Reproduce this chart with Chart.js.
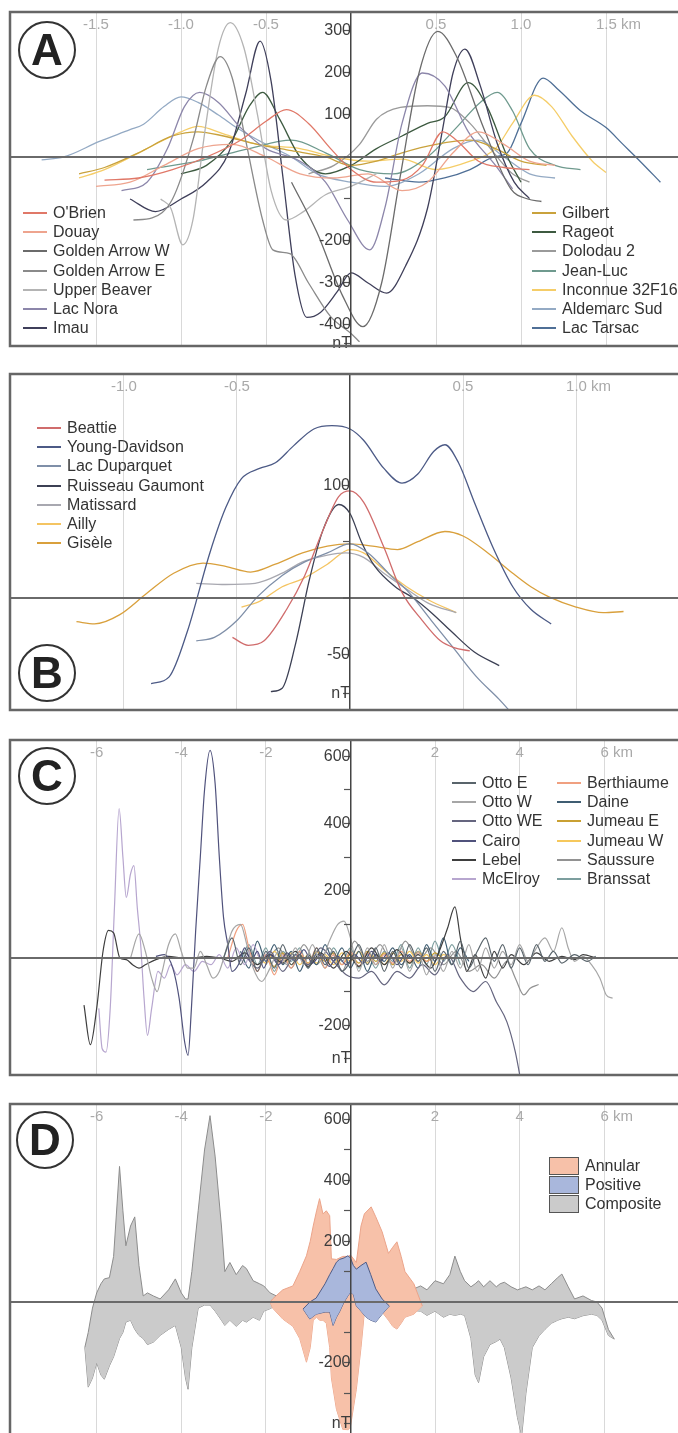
<!DOCTYPE html>
<html><head><meta charset="utf-8">
<script src="https://cdn.jsdelivr.net/npm/chart.js@4.4.1/dist/chart.umd.min.js"></script>
<style>
html,body{margin:0;padding:0;background:#fff;}
body{width:678px;height:1433px;overflow:hidden;position:relative;font-family:'Liberation Sans',Arial,Helvetica,sans-serif;}
canvas{position:absolute;left:0;}
.leg{position:absolute;font-size:16px;color:#333;white-space:nowrap;}
.leg .it{height:19.3px;display:flex;align-items:center;}
.leg .ln{display:inline-block;width:24px;height:0;border-top:2px solid;margin-right:6px;}
.leg .bx{display:inline-block;width:28px;height:16px;border:1.5px solid #555;margin-right:6px;}
.badge{position:absolute;width:58px;height:58px;border:2.5px solid #333;border-radius:50%;box-sizing:border-box;font-weight:bold;font-size:44px;color:#222;display:flex;align-items:center;justify-content:center;background:#fff;}
</style></head>
<body>
<script>
// ---------------- Panel A data (km, nT) ----------------
const namesAL = ["O'Brien","Douay","Golden Arrow W","Golden Arrow E","Upper Beaver","Lac Nora","Imau"];
const namesAR = ["Gilbert","Rageot","Dolodau 2","Jean-Luc","Inconnue 32F16","Aldemarc Sud","Lac Tarsac"];
const obrien = [[-1.45,-55],[-1.25,-50],[-1.05,-30],[-0.85,0],[-0.65,40],[-0.5,85],[-0.38,113],[-0.25,80],[-0.12,20],[0.0,-30],[0.15,-60],[0.3,-55],[0.42,-20],[0.54,60],[0.62,40],[0.75,-10],[0.9,-25],[1.05,-30]];
const douay = [[-1.5,-70],[-1.3,-60],[-1.1,-20],[-0.9,20],[-0.7,30],[-0.5,0],[-0.3,-40],[-0.1,-50],[0.1,-40],[0.3,-80],[0.45,-60],[0.6,10],[0.75,60],[0.9,30],[1.05,-10],[1.2,-20]];
const goldenArrowW = [[-0.35,-60],[-0.2,-180],[-0.05,-330],[0.07,-404],[0.18,-300],[0.29,-45],[0.4,200],[0.51,299],[0.62,240],[0.78,69],[0.94,-76],[1.04,-100],[1.12,-106]];
const goldenArrowE = [[-1.28,-150],[-1.17,-145],[-1.05,-100],[-0.93,40],[-0.85,170],[-0.77,239],[-0.7,190],[-0.62,40],[-0.52,-150],[-0.46,-221],[-0.36,-230],[-0.25,-300],[-0.12,-380],[0.0,-420],[0.05,-440]];
const upperBeaver = [[-1.12,-100],[-1.06,-122],[-0.99,-209],[-0.93,-150],[-0.86,60],[-0.78,260],[-0.71,320],[-0.63,260],[-0.55,100],[-0.47,-80],[-0.38,-150],[-0.28,-130],[-0.15,-90],[0.0,-70],[0.15,-40]];
const lacNora = [[-1.35,-80],[-1.2,-60],[-1.08,20],[-0.98,120],[-0.89,154],[-0.78,130],[-0.65,70],[-0.5,20],[-0.3,-10],[-0.15,-60],[-0.02,-150],[0.11,-221],[0.2,-120],[0.3,80],[0.42,200],[0.55,170],[0.69,60],[0.85,-20],[0.95,-76]];
const imau = [[-1.3,-100],[-1.15,-130],[-1.0,-100],[-0.85,-60],[-0.72,10],[-0.62,150],[-0.535,276],[-0.47,180],[-0.4,-50],[-0.33,-280],[-0.26,-382],[-0.18,-370],[-0.08,-320],[0.0,-276],[0.1,-300],[0.21,-324],[0.32,-260],[0.45,-122],[0.54,69],[0.6,200],[0.67,257],[0.76,170],[0.86,32],[0.96,-60],[1.05,-99]];
const gilbert = [[-1.6,-40],[-1.45,-25],[-1.25,10],[-1.05,50],[-0.9,60],[-0.75,50],[-0.55,30],[-0.35,15],[-0.15,0],[0.0,-20],[0.15,-10],[0.3,10],[0.5,30],[0.7,40],[0.85,20],[1.0,-10],[1.15,-20]];
const rageot = [[-1.0,-40],[-0.85,-20],[-0.7,40],[-0.6,120],[-0.52,154],[-0.42,90],[-0.3,0],[-0.15,-40],[0.0,-20],[0.15,20],[0.3,50],[0.45,80],[0.55,95],[0.69,177],[0.8,120],[0.92,0],[1.0,-60]];
const dolodau2 = [[-0.25,-40],[-0.1,-20],[0.05,30],[0.15,90],[0.29,118],[0.45,122],[0.58,118],[0.7,80],[0.82,20],[0.95,-40],[1.05,-60]];
const jeanLuc = [[-1.2,-30],[-0.9,-10],[-0.6,20],[-0.35,40],[-0.15,10],[0.05,-30],[0.25,-40],[0.45,0],[0.62,70],[0.76,130],[0.86,154],[0.95,110],[1.05,20],[1.2,-20],[1.35,-30]];
const inconnue = [[-1.6,-50],[-1.45,-30],[-1.2,20],[-1.0,60],[-0.9,73],[-0.75,55],[-0.55,30],[-0.3,20],[-0.1,0],[0.1,-10],[0.3,-5],[0.5,-30],[0.7,-10],[0.85,20],[0.95,80],[1.08,147],[1.18,120],[1.3,50],[1.42,-10],[1.5,-37]];
const aldemarcSud = [[-1.82,-7],[-1.69,0],[-1.48,37],[-1.3,65],[-1.22,78],[-1.1,120],[-1.0,143],[-0.9,130],[-0.78,100],[-0.67,69],[-0.5,30],[-0.35,0],[-0.2,-40],[0.0,-60],[0.2,-70],[0.4,-40],[0.6,20],[0.75,40],[0.9,0],[1.05,-40],[1.2,-50]];
const lacTarsac = [[0.2,-50],[0.4,-60],[0.55,-50],[0.7,-30],[0.84,0],[0.92,10],[1.0,80],[1.13,188],[1.22,160],[1.35,110],[1.5,70],[1.6,30],[1.7,-10],[1.82,-60]];
const seriesAL = [obrien, douay, goldenArrowW, goldenArrowE, upperBeaver, lacNora, imau];
const seriesAR = [gilbert, rageot, dolodau2, jeanLuc, inconnue, aldemarcSud, lacTarsac];
const xTicksA = [-1.5,-1.0,-0.5,0.5,1.0,1.5];
const xLabelsA = ['-1.5','-1.0','-0.5','0.5','1.0','      1.5 km'];
const yTicksA = [300,200,100,0,-100,-200,-300,-400,-444];
const yLabelsA = ['300','200','100','','','-200','-300','-400','nT'];

// ---------------- Panel B data ----------------
const namesB = ["Beattie","Young-Davidson","Lac Duparquet","Ruisseau Gaumont","Matissard","Ailly","Gisèle"];
const beattie = [[-0.52,-35],[-0.45,-42],[-0.38,-38],[-0.28,-10],[-0.2,20],[-0.12,60],[-0.05,90],[0.0,95],[0.06,85],[0.15,45],[0.23,5],[0.32,-20],[0.4,-38],[0.46,-44],[0.53,-47]];
const youngDavidson = [[-0.88,-76],[-0.8,-70],[-0.72,-30],[-0.62,40],[-0.55,80],[-0.48,106],[-0.4,115],[-0.33,120],[-0.25,135],[-0.16,150],[-0.08,153],[0.0,150],[0.06,140],[0.15,115],[0.23,102],[0.3,110],[0.37,130],[0.42,136],[0.48,120],[0.55,85],[0.63,46],[0.72,10],[0.8,-10],[0.89,-23]];
const lacDuparquet = [[-0.68,-38],[-0.6,-35],[-0.5,-20],[-0.41,1],[-0.3,20],[-0.2,32],[-0.1,40],[0.0,48],[0.08,40],[0.18,20],[0.26,5],[0.36,-20],[0.46,-45],[0.56,-70],[0.66,-90],[0.74,-108]];
const ruisseauGaumont = [[-0.35,-83],[-0.3,-80],[-0.24,-40],[-0.18,16],[-0.12,60],[-0.05,83],[0.0,75],[0.05,50],[0.11,28],[0.2,10],[0.28,0],[0.36,-13],[0.45,-30],[0.55,-48],[0.66,-60]];
const matissard = [[-0.68,13],[-0.55,12],[-0.42,13],[-0.3,22],[-0.21,32],[-0.1,38],[-0.02,40],[0.06,36],[0.15,22],[0.25,8],[0.35,-5],[0.47,-13]];
const ailly = [[-0.48,-8],[-0.4,-3],[-0.3,10],[-0.21,17],[-0.1,30],[0.0,43],[0.06,40],[0.15,25],[0.25,10],[0.35,-2],[0.47,-13]];
const gisele = [[-1.21,-21],[-1.13,-23],[-1.02,-15],[-0.9,4],[-0.78,22],[-0.65,31],[-0.55,28],[-0.44,23],[-0.33,30],[-0.21,40],[-0.1,46],[0.0,48],[0.1,46],[0.21,43],[0.3,50],[0.42,59],[0.5,55],[0.61,40],[0.72,22],[0.8,10],[0.88,1],[1.0,-8],[1.12,-13],[1.21,-12]];
const seriesB = [beattie, youngDavidson, lacDuparquet, ruisseauGaumont, matissard, ailly, gisele];
const xTicksB = [-1.0,-0.5,0.5,1.0];
const xLabelsB = ['-1.0','-0.5','0.5','      1.0 km'];
const yTicksB = [100,50,0,-50,-85];
const yLabelsB = ['100','','','-50','nT'];

// ---------------- Panel C data ----------------
const namesC1 = ["Otto E","Otto W","Otto WE","Cairo","Lebel","McElroy"];
const namesC2 = ["Berthiaume","Daine","Jumeau E","Jumeau W","Saussure","Branssat"];
const ottoE = [[-3.0,0],[-2.8,60],[-2.6,-20],[-2.4,30],[-2.2,-40],[-2.0,20],[-1.8,-30],[-1.6,40],[-1.4,-20],[-1.2,10],[-1.0,-30],[-0.8,30],[-0.6,-20],[-0.4,20],[-0.2,-40],[0.0,-10],[0.2,40],[0.4,-20],[0.6,30],[0.8,-40],[1.0,20],[1.2,-30],[1.4,40],[1.6,-10],[1.8,30],[2.0,-40],[2.2,20],[2.4,-20],[2.6,50],[2.8,-30],[3.0,20],[3.2,60],[3.4,-10],[3.6,40],[3.8,-30],[4.0,30],[4.2,-20],[4.4,40],[4.6,-10],[4.8,20],[5.0,-15],[5.3,10],[5.6,-10],[5.8,5]];
const ottoW = [[-5.2,0],[-5.0,72],[-4.85,20],[-4.7,-60],[-4.57,-100],[-4.45,-40],[-4.3,40],[-4.14,72],[-4.0,20],[-3.85,-30],[-3.7,-30],[-3.55,20],[-3.4,-20],[-3.25,-60],[-3.1,-40],[-2.95,20],[-2.8,80],[-2.6,100],[-2.45,40],[-2.3,-30],[-2.1,-70],[-1.9,-30],[-1.7,20],[-1.5,-20],[-1.3,30],[-1.1,-20],[-0.9,40],[-0.7,-10],[-0.5,50],[-0.3,100],[-0.15,110],[0.0,60],[0.2,-40],[0.4,30],[0.6,-20],[0.8,40],[1.0,-30],[1.2,30],[1.4,-40],[1.6,20],[1.8,-50],[2.0,10],[2.2,-40],[2.4,20],[2.6,-30],[2.8,40],[3.0,-40],[3.2,30],[3.4,-30],[3.6,20],[3.8,-20],[4.0,40],[4.2,-10],[4.4,30],[4.6,60],[4.8,20],[5.0,90],[5.15,30],[5.3,-10],[5.5,5],[5.7,-20],[5.9,-60],[6.05,-110],[6.2,-120]];
const ottoWE = [[-2.5,10],[-2.2,-30],[-1.9,20],[-1.6,-40],[-1.3,10],[-1.0,-20],[-0.7,30],[-0.4,-10],[-0.1,-50],[0.2,-60],[0.5,-40],[0.8,-80],[1.1,-40],[1.4,-60],[1.7,-20],[2.0,-50],[2.3,10],[2.6,-60],[2.9,-100],[3.2,-70],[3.45,-130],[3.7,-190],[3.9,-280],[4.05,-380]];
const cairo = [[-4.6,5],[-4.4,10],[-4.2,-30],[-4.05,-120],[-3.92,-250],[-3.84,-290],[-3.76,-150],[-3.66,80],[-3.55,300],[-3.45,500],[-3.32,618],[-3.2,520],[-3.1,300],[-3.0,120],[-2.9,40],[-2.8,-40],[-2.65,-20],[-2.5,30],[-2.35,-10],[-2.2,20],[-2.05,-30],[-1.9,10],[-1.7,-20],[-1.5,15],[-1.3,-10],[-1.1,25],[-0.9,-15],[-0.7,10],[-0.5,-25],[-0.3,5],[-0.1,-20],[0.1,10],[0.3,-15],[0.5,20],[0.7,-10],[0.9,15],[1.1,-20],[1.3,10],[1.5,-5]];
const lebel = [[-6.3,-140],[-6.15,-258],[-6.0,-150],[-5.85,20],[-5.72,82],[-5.6,75],[-5.45,0],[-5.3,-5],[-5.15,-20],[-5.0,-30],[-4.85,-20],[-4.6,-5],[-4.3,5],[-4.0,0],[-3.7,0],[-3.4,5],[-3.1,0],[-2.8,-10],[-2.5,15],[-2.2,-20],[-1.9,10],[-1.6,-15],[-1.3,20],[-1.0,-25],[-0.7,15],[-0.4,-30],[-0.1,20],[0.2,-25],[0.5,30],[0.8,-20],[1.1,25],[1.4,-15],[1.6,10],[1.9,-30],[2.1,20],[2.3,90],[2.47,152],[2.6,60],[2.75,-40],[2.95,10],[3.2,-60],[3.4,20],[3.6,-30],[3.8,10],[4.1,-20],[4.4,15],[4.7,-10],[5.0,5],[5.3,-5],[5.5,10],[5.8,0]];
const mcElroy = [[-5.95,-150],[-5.87,-270],[-5.78,-280],[-5.68,-150],[-5.58,150],[-5.47,445],[-5.38,300],[-5.3,180],[-5.2,250],[-5.12,275],[-5.04,150],[-4.96,40],[-4.88,-120],[-4.8,-230],[-4.7,-150],[-4.55,-40],[-4.4,-60],[-4.25,-20],[-4.1,-50],[-3.9,-20],[-3.7,-40],[-3.5,-10],[-3.3,-20],[-3.1,10],[-2.9,-30],[-2.7,30],[-2.5,-20],[-2.3,40],[-2.1,-10],[-1.9,20],[-1.7,-20],[-1.5,10]];
const berthiaume = [[-2.9,0],[-2.7,80],[-2.55,100],[-2.4,30],[-2.2,-40],[-2.0,10],[-1.8,-50],[-1.6,10],[-1.4,-30],[-1.2,20],[-1.0,-20],[-0.8,30],[-0.6,-30],[-0.4,10],[-0.2,-20],[0.0,20],[0.2,-25],[0.4,15],[0.6,-20],[0.8,10],[1.0,-15],[1.2,20],[1.4,-10],[1.6,15],[1.8,-10],[2.0,5]];
const daine = [[-2.6,20],[-2.4,-30],[-2.2,50],[-2.0,-10],[-1.8,40],[-1.6,-20],[-1.4,20],[-1.2,-40],[-1.0,10],[-0.8,-20],[-0.6,40],[-0.4,-10],[-0.2,30],[0.0,-30],[0.2,20],[0.4,-40],[0.6,10],[0.8,-10],[1.0,30],[1.2,-20],[1.4,10],[1.6,-30],[1.8,40],[2.0,-10],[2.2,60],[2.4,-20],[2.6,30],[2.8,-10]];
const jumeauE = [[-2.0,0],[-1.8,-25],[-1.6,15],[-1.4,-20],[-1.2,10],[-1.0,-15],[-0.8,20],[-0.6,-10],[-0.4,15],[-0.2,-20],[0.0,10],[0.2,-15],[0.4,20],[0.6,-10],[0.8,15],[1.0,-20],[1.2,10],[1.4,-15],[1.6,20],[1.8,-10],[2.0,15],[2.2,-5]];
const jumeauW = [[-2.2,10],[-2.0,-15],[-1.8,20],[-1.6,-10],[-1.4,15],[-1.2,-20],[-1.0,10],[-0.8,-15],[-0.6,10],[-0.4,-20],[-0.2,15],[0.0,-10],[0.2,20],[0.4,-15],[0.6,10],[0.8,-20],[1.0,15],[1.2,-10],[1.4,20],[1.6,-15],[1.8,10],[2.0,-20],[2.2,10],[2.4,0]];
const saussure = [[-2.0,-20],[-1.7,30],[-1.4,-30],[-1.1,40],[-0.8,-20],[-0.5,30],[-0.2,-40],[0.1,50],[0.4,-10],[0.7,40],[1.0,-20],[1.3,50],[1.6,-10],[1.9,30],[2.2,-20],[2.5,20],[2.8,-40],[3.1,-20],[3.4,-60],[3.7,-10],[3.9,-60],[4.1,-110],[4.25,-90],[4.45,-79]];
const branssat = [[-2.6,-10],[-2.4,40],[-2.2,-20],[-2.0,30],[-1.8,-40],[-1.6,20],[-1.4,-10],[-1.2,30],[-1.0,-30],[-0.8,10],[-0.6,-30],[-0.4,30],[-0.2,-10],[0.0,30],[0.2,-30],[0.4,10],[0.6,-30],[0.8,20],[1.0,-10],[1.2,40],[1.4,-30],[1.6,30],[1.8,-20],[2.0,50],[2.2,-10],[2.4,40],[2.6,-20]];
const seriesC1 = [ottoE, ottoW, ottoWE, cairo, lebel, mcElroy];
const seriesC2 = [berthiaume, daine, jumeauE, jumeauW, saussure, branssat];
const xTicksCD = [-6,-4,-2,2,4,6];
const xLabelsCD = ['-6','-4','-2','2','4','      6 km'];
const yTicksC = [600,500,400,300,200,100,0,-100,-200,-300];
const yLabelsC = ['600','','400','','200','','','','-200','nT'];

// ---------------- Panel D data (x, upper, lower) ----------------
const namesD = ["Annular","Positive","Composite"];
const compositeX = [-6.28,-6.2,-6.1,-6.0,-5.9,-5.82,-5.7,-5.6,-5.46,-5.38,-5.31,-5.2,-5.1,-5.0,-4.9,-4.8,-4.66,-4.5,-4.3,-4.14,-4.0,-3.9,-3.84,-3.75,-3.6,-3.45,-3.32,-3.2,-3.05,-2.97,-2.85,-2.7,-2.55,-2.46,-2.3,-2.15,-2.05,-1.9,-1.75,-1.2,-0.6,0.0,0.6,1.2,1.66,1.81,2.0,2.2,2.35,2.47,2.6,2.7,2.85,2.95,3.03,3.15,3.3,3.45,3.54,3.64,3.8,3.95,4.05,4.15,4.3,4.46,4.6,4.75,4.9,5.0,5.15,5.3,5.5,5.7,5.83,5.95,6.1,6.24];
const compositeUpper = [-149,-100,-20,30,60,76,80,150,446,300,185,250,280,120,20,30,20,10,40,76,30,10,10,100,300,500,613,480,250,100,130,90,120,110,70,60,53,30,20,25,30,30,30,25,53,40,70,60,90,151,100,70,50,60,70,50,70,50,60,65,50,40,45,50,40,53,40,60,80,92,50,10,20,5,0,-20,-90,-122];
const compositeLower = [-149,-280,-250,-200,-240,-254,-210,-180,-120,-100,-66,-60,-90,-110,-120,-140,-132,-110,-90,-77,-150,-250,-287,-150,-20,-10,-10,-30,-60,-77,-60,-80,-60,-66,-50,-60,-30,-22,-10,-25,-30,-30,-30,-25,-30,-44,-30,-50,-40,-44,-40,-44,-120,-240,-265,-180,-140,-130,-122,-150,-250,-380,-440,-300,-150,-111,-90,-70,-60,-55,-50,-55,-45,-40,-44,-60,-110,-122];
const annularX = [-1.9,-1.84,-1.6,-1.36,-1.2,-1.04,-0.95,-0.88,-0.8,-0.73,-0.65,-0.57,-0.49,-0.45,-0.33,-0.18,-0.05,0.0,0.14,0.25,0.33,0.49,0.6,0.75,0.9,1.0,1.1,1.2,1.29,1.5,1.7];
const annularUpper = [0,10,40,53,100,152,200,250,300,340,290,300,284,142,140,150,150,155,130,250,290,313,280,231,160,180,198,150,100,60,-13];
const annularLower = [0,-20,-56,-80,-120,-198,-150,-60,-50,-60,-60,-70,-150,-250,-353,-419,-420,-410,-287,-150,-33,-30,-30,-33,-60,-80,-89,-70,-50,-40,-13];
const positiveX = [-1.12,-0.96,-0.81,-0.6,-0.49,-0.41,-0.33,-0.26,-0.15,-0.06,0.0,0.07,0.14,0.25,0.37,0.48,0.6,0.75,0.92];
const positiveUpper = [-23,0,13,60,90,110,131,140,145,152,145,120,108,120,131,90,43,10,-13];
const positiveLower = [-23,-56,-40,-33,-33,-77,-50,-33,0,20,32,25,-13,-30,-50,-60,-66,-40,-13];
const yTicksD = [600,500,400,300,200,100,0,-100,-200,-300,-400];
const yLabelsD = ['600','','400','','200','','','','-200','','nT'];

// ---------------- styles ----------------
const colorsAL = ['#e07868','#eea48e','#6b6b6b','#8a8a8a','#b4b4b4','#8c86aa','#3f3f5a'];
const colorsAR = ['#c9a23c','#3d5a40','#9a9a9a','#6f9a8e','#f5cd68','#94aac4','#4f6f96'];
const colorsB = ['#d06c6c','#4c5a86','#7f8fa8','#3c4054','#a8a8b0','#f4c462','#d9a03c'];
const colorsC1 = ['#59646b','#a6a6a6','#65657f','#50527c','#3e3e3e','#b7a6cf'];
const colorsC2 = ['#f0a080','#3f5d72','#c9a032','#f6c85c','#929292','#7c9e9e'];
const fillD = ['#f7c1a9','#a9b7dc','#cbcbcb'];
const edgeD = ['#eba48a','#4d5c88','#8c8c8c'];

Chart.defaults.font.family = "'Liberation Sans', Arial, Helvetica, sans-serif";

const framePlugin = {
  id: 'frame',
  afterDraw(chart) {
    const {ctx, chartArea: a} = chart;
    ctx.save();
    ctx.strokeStyle = '#666';
    ctx.lineWidth = 2.5;
    ctx.beginPath();
    ctx.moveTo(a.right + 5, a.top);
    ctx.lineTo(a.left, a.top);
    ctx.lineTo(a.left, a.bottom);
    ctx.lineTo(a.right + 5, a.bottom);
    ctx.stroke();
    ctx.restore();
  }
};

function lineSets(names, colors, series, width) {
  return names.map((n, i) => ({
    label: n,
    data: series[i].map(p => ({x: p[0], y: p[1]})),
    borderColor: colors[i], borderWidth: width, pointRadius: 0, fill: false,
    cubicInterpolationMode: 'monotone'
  }));
}
function bandSets(name, xs, up, lo, fillC, edgeC) {
  return [
    {label: name, data: xs.map((x, i) => ({x, y: up[i]})), borderColor: edgeC, borderWidth: 1, pointRadius: 0, backgroundColor: fillC, fill: '+1', tension: 0},
    {label: name + ' low', data: xs.map((x, i) => ({x, y: lo[i]})), borderColor: edgeC, borderWidth: 1, pointRadius: 0, fill: false, tension: 0}
  ];
}

function makePanel(top, height, cfg) {
  const c = document.createElement('canvas');
  c.width = 690; c.height = height; c.style.top = top + 'px';
  document.body.appendChild(c);
  return new Chart(c, {
    type: 'line',
    data: {datasets: cfg.datasets},
    options: {
      responsive: false, animation: false, events: [],
      layout: {padding: {left: 10, right: 0, top: 14, bottom: 14}},
      plugins: {legend: {display: false}, tooltip: {enabled: false}},
      scales: {
        x: {
          type: 'linear', min: cfg.xMin, max: cfg.xMax, position: {y: cfg.yMax},
          afterBuildTicks: s => { s.ticks = cfg.xTicks.map(v => ({value: v})); },
          grid: {color: '#d9d9d9', lineWidth: 1, drawTicks: false},
          border: {display: false},
          ticks: {autoSkip: false, maxRotation: 0, padding: 4, color: '#a9a9a9', font: {size: 15},
                  callback: v => cfg.xLabels[cfg.xTicks.indexOf(v)]}
        },
        y: {
          type: 'linear', min: cfg.yMin, max: cfg.yMax, position: {x: 0},
          afterBuildTicks: s => { s.ticks = cfg.yTicks.map(v => ({value: v})); },
          grid: {
            z: 1,
            drawOnChartArea: true, drawTicks: true, tickLength: 6, tickColor: '#555', tickWidth: 1.2,
            color: ctx => (ctx.tick && ctx.tick.value === 0) ? '#6a6a6a' : 'rgba(0,0,0,0)',
            lineWidth: ctx => (ctx.tick && ctx.tick.value === 0) ? 2 : 1
          },
          border: {display: true, color: '#444', width: 1.5, z: 1},
          ticks: {z: 1, autoSkip: false, padding: 2, color: '#3c3c3c', font: {size: 16},
                  callback: v => cfg.yLabels[cfg.yTicks.indexOf(v)]}
        }
      }
    },
    plugins: [framePlugin]
  });
}

// Panel A
makePanel(-2, 362, {
  xMin: -2.006, xMax: 1.994, yMin: -450, yMax: 345.2,
  xTicks: xTicksA, xLabels: xLabelsA, yTicks: yTicksA, yLabels: yLabelsA,
  datasets: lineSets(namesAL, colorsAL, seriesAL, 1.3).concat(lineSets(namesAR, colorsAR, seriesAR, 1.3))
});
// Panel B
makePanel(360, 364, {
  xMin: -1.504, xMax: 1.504, yMin: -99.4, yMax: 198.8,
  xTicks: xTicksB, xLabels: xLabelsB, yTicks: yTicksB, yLabels: yLabelsB,
  datasets: lineSets(namesB, colorsB, seriesB, 1.3)
});
// Panel C
makePanel(726, 363, {
  xMin: -8.05, xMax: 8.03, yMin: -348.2, yMax: 648.8,
  xTicks: xTicksCD, xLabels: xLabelsCD, yTicks: yTicksC, yLabels: yLabelsC,
  datasets: lineSets(namesC1, colorsC1, seriesC1, 1.2).concat(lineSets(namesC2, colorsC2, seriesC2, 1.2))
});
// Panel D
makePanel(1090, 364, {
  xMin: -8.05, xMax: 8.03, yMin: -453.9, yMax: 651.3,
  xTicks: xTicksCD, xLabels: xLabelsCD, yTicks: yTicksD, yLabels: yLabelsD,
  datasets: bandSets(namesD[1], positiveX, positiveUpper, positiveLower, fillD[1], edgeD[1])
    .concat(bandSets(namesD[0], annularX, annularUpper, annularLower, fillD[0], edgeD[0]))
    .concat(bandSets(namesD[2], compositeX, compositeUpper, compositeLower, fillD[2], edgeD[2]))
});

// ---------------- HTML legends & badges ----------------
function legend(names, colors, left, top, box) {
  const d = document.createElement('div');
  d.className = 'leg'; d.style.left = left + 'px'; d.style.top = top + 'px';
  names.forEach((n, i) => {
    const it = document.createElement('div'); it.className = 'it';
    const m = document.createElement('span');
    if (box) { m.className = 'bx'; m.style.background = colors[i]; }
    else { m.className = 'ln'; m.style.borderTopColor = colors[i]; }
    it.appendChild(m);
    it.appendChild(document.createTextNode(n));
    d.appendChild(it);
  });
  document.body.appendChild(d);
}
legend(namesAL, colorsAL, 23, 203, false);
legend(namesAR, colorsAR, 532, 203, false);
legend(namesB, colorsB, 37, 418, false);
legend(namesC1, colorsC1, 452, 773, false);
legend(namesC2, colorsC2, 557, 773, false);
legend(namesD, fillD, 549, 1156, true);

function badge(t, cx, cy) {
  const b = document.createElement('div'); b.className = 'badge';
  b.style.left = (cx - 29) + 'px'; b.style.top = (cy - 29) + 'px';
  b.textContent = t; document.body.appendChild(b);
}
badge('A', 47, 50); badge('B', 47, 673); badge('C', 47, 776); badge('D', 45, 1140);
</script>
</body></html>
